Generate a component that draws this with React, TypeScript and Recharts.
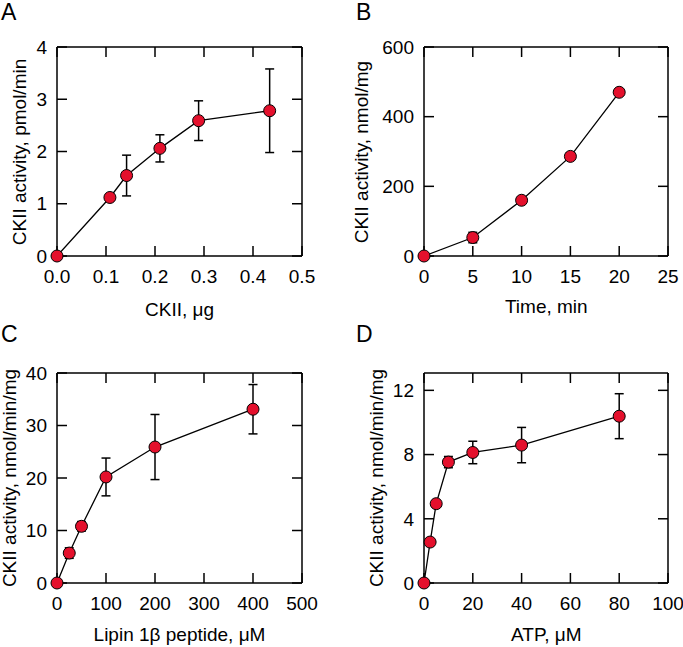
import React from "react";
import { ScatterChart, Scatter, XAxis, YAxis, ErrorBar, ReferenceLine } from "recharts";

// panel A – enzyme amount
const ckiiUg = [0, 0.108, 0.142, 0.21, 0.289, 0.434];
const activityA = [0, 1.12, 1.54, 2.06, 2.59, 2.78];
const errA = [0, 0, 0.39, 0.26, 0.38, 0.8];

// panel B – time course
const timeMin = [0, 5, 10, 15, 20];
const activityB = [0, 53, 160, 286, 470];
const errB = [0, 15, 0, 10, 0];

// panel C – peptide
const peptideUM = [0, 25, 50, 100, 200, 400];
const activityC = [0, 5.7, 10.8, 20.2, 25.9, 33.1];
const errC = [0, 1.0, 0.9, 3.6, 6.2, 4.7];

// panel D – ATP
const atpUM = [0, 2.5, 5, 10, 20, 40, 80];
const activityD = [0, 2.55, 4.94, 7.53, 8.13, 8.59, 10.39];
const errD = [0, 0, 0, 0.35, 0.7, 1.1, 1.4];

const ticksA = { x: [0, 0.1, 0.2, 0.3, 0.4, 0.5], y: [0, 1, 2, 3, 4] };
const ticksB = { x: [0, 5, 10, 15, 20, 25], y: [0, 200, 400, 600] };
const ticksC = { x: [0, 100, 200, 300, 400, 500], y: [0, 10, 20, 30, 40] };
const ticksD = { x: [0, 20, 40, 60, 80, 100], y: [0, 4, 8, 12] };

const FONT = "'Liberation Sans', Arial, Helvetica, sans-serif";
const RED = "#e4102c";
const TICK_LEN = 10;

const zip = (xs: number[], ys: number[], es: number[]) =>
  xs.map((x, i) => ({ x, y: ys[i], err: es[i] }));

const Dot = (p: any) => (
  <circle cx={p.cx} cy={p.cy} r={6} fill={RED} stroke="#000" strokeWidth={1} />
);

// inward tick marks at both ends of a reference line
const VTicks = (p: any) => {
  const top = Math.min(p.y1, p.y2);
  const bot = Math.max(p.y1, p.y2);
  return (
    <g stroke="#000" strokeWidth={1.5}>
      <line x1={p.x1} x2={p.x1} y1={top} y2={top + TICK_LEN} />
      <line x1={p.x1} x2={p.x1} y1={bot} y2={bot - TICK_LEN} />
    </g>
  );
};
const HTicks = (p: any) => {
  const l = Math.min(p.x1, p.x2);
  const r = Math.max(p.x1, p.x2);
  return (
    <g stroke="#000" strokeWidth={1.5}>
      <line x1={l} x2={l + TICK_LEN} y1={p.y1} y2={p.y1} />
      <line x1={r} x2={r - TICK_LEN} y1={p.y1} y2={p.y1} />
    </g>
  );
};

interface PanelProps {
  left: number;
  top: number;
  width: number;
  height: number;
  margin: { top: number; right: number; bottom: number; left: number };
  yAxisWidth: number;
  xDomain: [number, number];
  yDomain: [number, number];
  xTicks: number[];
  yTicks: number[];
  xFmt?: (v: number) => string;
  data: { x: number; y: number; err: number }[];
  letter: string;
  letterPos: [number, number];
  xLabel: string;
  xLabelPos: [number, number];
  yLabel: string;
  yLabelPos: [number, number];
}

const tickStyle = { fontSize: 19, fill: "#000", fontFamily: FONT };
const axisLine = { stroke: "#000", strokeWidth: 1.5 };

const Panel = (p: PanelProps) => (
  <>
    <div style={{ position: "absolute", left: p.left, top: p.top }}>
      <ScatterChart width={p.width} height={p.height} margin={p.margin}>
        <XAxis
          type="number"
          dataKey="x"
          domain={p.xDomain}
          ticks={p.xTicks}
          tickFormatter={p.xFmt}
          interval={0}
          height={30}
          tickLine={false}
          tickSize={0}
          tickMargin={14}
          tick={tickStyle}
          axisLine={axisLine}
        />
        <YAxis
          type="number"
          dataKey="y"
          domain={p.yDomain}
          ticks={p.yTicks}
          interval={0}
          width={p.yAxisWidth}
          tickLine={false}
          tickSize={0}
          tickMargin={10}
          tick={tickStyle}
          axisLine={axisLine}
        />
        {p.xTicks.map((v) => (
          <ReferenceLine key={"vx" + v} x={v} stroke="none" shape={VTicks} />
        ))}
        {p.yTicks.map((v) => (
          <ReferenceLine key={"hy" + v} y={v} stroke="none" shape={HTicks} />
        ))}
        <ReferenceLine x={p.xDomain[1]} stroke="#000" strokeWidth={1.5} />
        <ReferenceLine y={p.yDomain[1]} stroke="#000" strokeWidth={1.5} />
        <Scatter
          data={p.data}
          line={{ stroke: "#000", strokeWidth: 1.3 }}
          lineType="joint"
          shape={Dot}
          isAnimationActive={false}
        >
          <ErrorBar dataKey="err" direction="y" width={4.5} stroke="#000" strokeWidth={1.5} isAnimationActive={false} />
        </Scatter>
      </ScatterChart>
    </div>
    <div
      style={{
        position: "absolute",
        left: p.letterPos[0],
        top: p.letterPos[1],
        fontSize: 23,
        lineHeight: "26px",
        fontFamily: FONT,
      }}
    >
      {p.letter}
    </div>
    <div
      style={{
        position: "absolute",
        left: p.xLabelPos[0] - 150,
        top: p.xLabelPos[1],
        width: 300,
        textAlign: "center",
        fontSize: 19,
        lineHeight: "22px",
        fontFamily: FONT,
        whiteSpace: "nowrap",
      }}
    >
      {p.xLabel}
    </div>
    <div
      style={{
        position: "absolute",
        left: p.yLabelPos[0] - 150,
        top: p.yLabelPos[1] - 11,
        width: 300,
        height: 22,
        textAlign: "center",
        fontSize: 19,
        lineHeight: "22px",
        fontFamily: FONT,
        whiteSpace: "nowrap",
        transform: "rotate(-90deg)",
      }}
    >
      {p.yLabel}
    </div>
  </>
);

export default function App() {
  return (
    <div style={{ position: "absolute", left: 0, top: 0, width: 683, height: 647, background: "#fff", overflow: "hidden" }}>
      <Panel
        left={0}
        top={0}
        width={340}
        height={320}
        margin={{ top: 47, right: 38, bottom: 34, left: 0 }}
        yAxisWidth={57}
        xDomain={[0, 0.5]}
        yDomain={[0, 4]}
        xTicks={ticksA.x}
        yTicks={ticksA.y}
        xFmt={(v) => v.toFixed(1)}
        data={zip(ckiiUg, activityA, errA)}
        letter="A"
        letterPos={[1, -1]}
        xLabel="CKII, μg"
        xLabelPos={[179.5, 299]}
        yLabel="CKII activity, pmol/min"
        yLabelPos={[19.5, 152]}
      />
      <Panel
        left={340}
        top={0}
        width={343}
        height={320}
        margin={{ top: 47, right: 15, bottom: 34, left: 0 }}
        yAxisWidth={84}
        xDomain={[0, 25]}
        yDomain={[0, 600]}
        xTicks={ticksB.x}
        yTicks={ticksB.y}
        data={zip(timeMin, activityB, errB)}
        letter="B"
        letterPos={[356, -1]}
        xLabel="Time, min"
        xLabelPos={[546.3, 296]}
        yLabel="CKII activity, nmol/mg"
        yLabelPos={[362, 152]}
      />
      <Panel
        left={0}
        top={320}
        width={340}
        height={327}
        margin={{ top: 53, right: 38, bottom: 34, left: 0 }}
        yAxisWidth={57}
        xDomain={[0, 500]}
        yDomain={[0, 40]}
        xTicks={ticksC.x}
        yTicks={ticksC.y}
        data={zip(peptideUM, activityC, errC)}
        letter="C"
        letterPos={[1, 321]}
        xLabel="Lipin 1β peptide, μM"
        xLabelPos={[179.5, 624]}
        yLabel="CKII activity, nmol/min/mg"
        yLabelPos={[9.5, 478]}
      />
      <Panel
        left={340}
        top={320}
        width={343}
        height={327}
        margin={{ top: 53, right: 15, bottom: 34, left: 0 }}
        yAxisWidth={84}
        xDomain={[0, 100]}
        yDomain={[0, 13.08]}
        xTicks={ticksD.x}
        yTicks={ticksD.y}
        data={zip(atpUM, activityD, errD)}
        letter="D"
        letterPos={[356, 321]}
        xLabel="ATP, μM"
        xLabelPos={[546.3, 624]}
        yLabel="CKII activity, nmol/min/mg"
        yLabelPos={[376.5, 478]}
      />
    </div>
  );
}
